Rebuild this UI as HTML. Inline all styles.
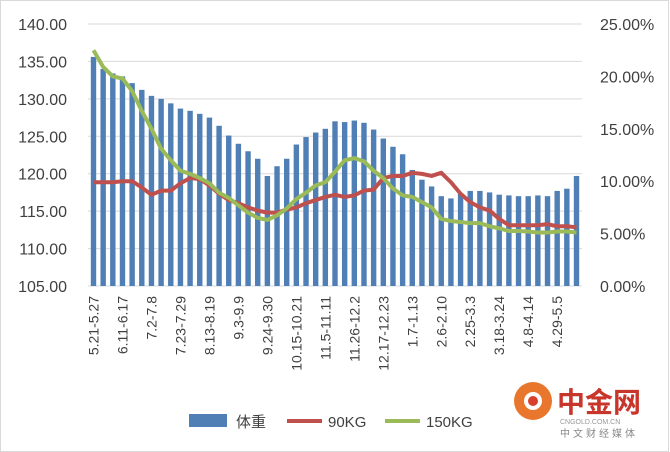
<!DOCTYPE html>
<html><head><meta charset="utf-8"><style>
body{margin:0;background:#fff}
svg{display:block;font-family:"Liberation Sans","Noto Sans CJK SC",sans-serif}
</style></head><body>
<svg id="chart" width="670" height="452">
<rect x="0.5" y="0.5" width="668" height="451" fill="#fff" stroke="#d9d9d9"/>
<g id="grid"></g><g id="bars"></g><g id="lines"></g><g id="axes"></g>
<g>
<rect x="189" y="414" width="38" height="13" fill="#4f7fb5"/>
<text x="236" y="427" font-size="15" fill="#404040">体重</text>
<line x1="287" y1="421" x2="322" y2="421" stroke="#c0504d" stroke-width="4"/>
<text x="328" y="427" font-size="15" fill="#404040">90KG</text>
<line x1="385" y1="421" x2="420" y2="421" stroke="#9bbb59" stroke-width="4"/>
<text x="426" y="427" font-size="15" fill="#404040">150KG</text>
</g>
<g>
<circle cx="533" cy="401" r="19" fill="#e8762c"/>
<circle cx="533" cy="401" r="9" fill="#fff"/>
<circle cx="533" cy="401" r="5" fill="#d9402a"/>
<text x="557" y="412" font-size="28" font-weight="bold" fill="#c8352b">中金网</text>
<text x="560" y="437" font-size="10" fill="#888" letter-spacing="3">中文财经媒体</text>
<text x="560" y="424" font-size="7" fill="#999">CNGOLD.COM.CN</text>
</g>
</svg>
<script>
const categories=["5.21-5.27","6.11-6.17","7.2-7.8","7.23-7.29","8.13-8.19","9.3-9.9","9.24-9.30","10.15-10.21","11.5-11.11","11.26-12.2","12.17-12.23","1.7-1.13","2.6-2.10","2.25-3.3","3.18-3.24","4.8-4.14","4.29-5.5"];
const weight=[135.6,134.0,133.4,133.0,132.1,131.2,130.4,130.0,129.4,128.7,128.4,128.0,127.5,126.4,125.1,124.0,123.0,122.0,119.7,121.0,122.0,123.9,124.9,125.5,126.0,127.0,
126.9,127.1,126.8,125.9,124.7,123.6,122.6,120.5,119.2,118.3,117.0,116.7,117.3,117.7,117.7,117.5,117.2,117.1,117.0,117.0,117.1,117.0,117.7,118.0,119.7];
const kg90=[9.9,9.9,9.9,10.0,10.0,9.4,8.7,9.1,9.1,9.8,10.3,10.2,9.6,8.8,8.2,7.9,7.5,7.2,7.0,7.0,7.3,7.5,7.9,8.2,8.5,8.7,
8.5,8.65,9.1,9.2,10.3,10.5,10.5,10.8,10.7,10.5,10.8,9.9,8.8,8.0,7.5,7.2,6.4,5.8,5.8,5.8,5.8,5.9,5.7,5.7,5.6];
const kg150=[22.5,20.9,20.0,19.8,18.6,16.7,15.0,13.1,12.0,11.0,10.7,10.3,9.8,8.9,8.4,7.7,7.0,6.5,6.3,6.75,7.4,8.3,8.9,9.6,9.9,10.9,
12.0,12.2,11.9,11.0,10.3,9.3,8.65,8.5,8.0,7.5,6.4,6.2,6.1,6.0,6.0,5.7,5.5,5.25,5.25,5.2,5.1,5.1,5.2,5.2,5.1];
const leftTicks=[105,110,115,120,125,130,135,140];
const rightTicks=[0,5,10,15,20,25];
const ns="http://www.w3.org/2000/svg";
const X0=93.5,X1=576.5,YT=24,YB=286;
const x=i=>X0+i*(X1-X0)/(weight.length-1);
const yL=v=>YB-(v-105)/35*(YB-YT);
const yR=p=>YB-p/25*(YB-YT);
function mk(t,a,parent){const e=document.createElementNS(ns,t);for(const k in a)e.setAttribute(k,a[k]);parent.appendChild(e);return e;}
const grid=document.getElementById('grid'),axes=document.getElementById('axes');
leftTicks.forEach(v=>{
 const l=mk('line',{x1:88,x2:582,y1:yL(v),y2:yL(v),stroke:'#d9d9d9','stroke-width':1},grid);
 
 
 const t=mk('text',{x:67,y:yL(v)+6,'text-anchor':'end','font-size':16,fill:'#404040'},axes);
 t.textContent=v.toFixed(2);
 
 
});
rightTicks.forEach(p=>{
 const t=mk('text',{x:600,y:yR(p)+6,'font-size':16,fill:'#404040'},axes);
 t.textContent=p.toFixed(2)+'%';
 
 
});
categories.forEach((c,k)=>{
 const xi=x(k*3)+5;
 const t=mk('text',{x:0,y:0,transform:`translate(${xi},296) rotate(-90)`,'text-anchor':'end','font-size':14,fill:'#404040'},axes);
 t.textContent=c;
 
 
});
const bars=document.getElementById('bars');
weight.forEach((v,i)=>{
 const r=mk('rect',{x:x(i)-2.7,y:yL(v),width:5.4,height:YB-yL(v),fill:'#4f7fb5'},bars);
 
 
});
const lines=document.getElementById('lines');
[[kg90,'#c0504d','line-90kg'],[kg150,'#9bbb59','line-150kg']].forEach(([d,c,n])=>{
 const p=mk('polyline',{points:d.map((v,i)=>x(i)+','+yR(v)).join(' '),fill:'none',stroke:c,'stroke-width':4,'stroke-linejoin':'round'},lines);
 
 
});
</script>
</body></html>
